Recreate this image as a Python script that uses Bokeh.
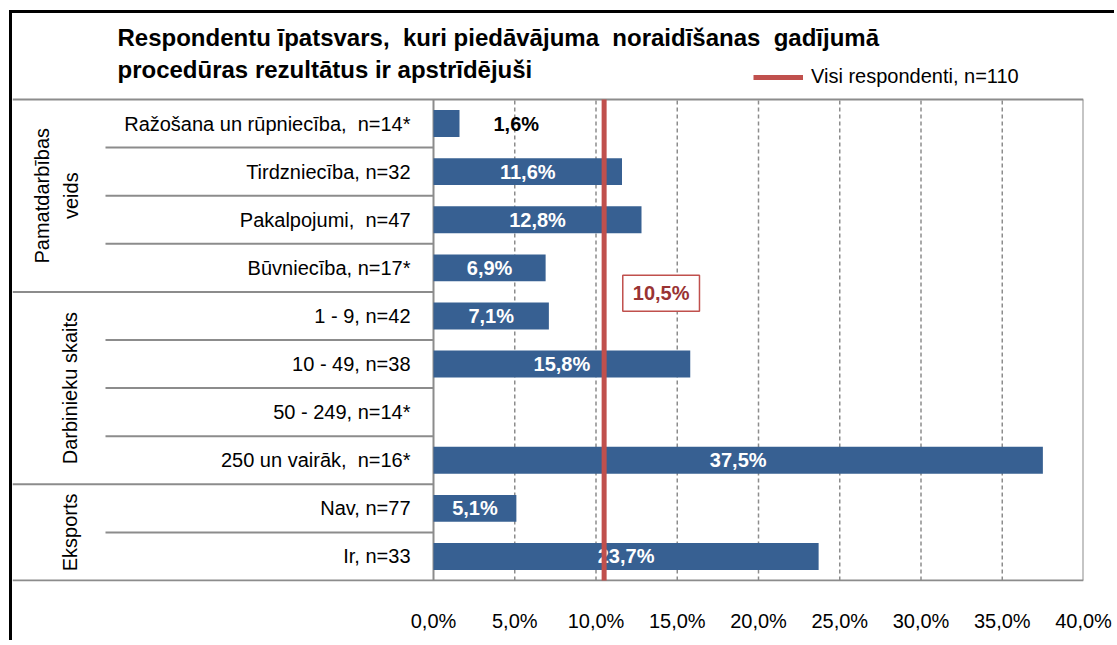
import math
from bokeh.plotting import figure
from bokeh.models import (ColumnDataSource, Range1d, FixedTicker,
                          CustomJSTickFormatter, Label, Legend, LegendItem)
from bokeh.core.properties import value
from bokeh.embed import file_html
from bokeh.resources import INLINE

NB = "\u00a0"
# ---------------- data ----------------
title_lines = ["Respondentu īpatsvars," + NB + " kuri piedāvājuma" + NB + " noraidīšanas" + NB + " gadījumā",
               "procedūras rezultātus ir apstrīdējuši"]
categories = ["Ražošana un rūpniecība," + NB + " n=14*", "Tirdzniecība, n=32",
              "Pakalpojumi," + NB + " n=47", "Būvniecība, n=17*",
              "1 - 9, n=42", "10 - 49, n=38", "50 - 249, n=14*",
              "250 un vairāk," + NB + " n=16*", "Nav, n=77", "Ir, n=33"]
values = [1.6, 11.6, 12.8, 6.9, 7.1, 15.8, float("nan"), 37.5, 5.1, 23.7]
groups = ["Pamatdarbības\nveids", "Darbinieku skaits", "Eksports"]
group_sizes = [4, 4, 2]
overall = 10.5
overall_label = "Visi respondenti, n=110"
x_ticks = [0, 5, 10, 15, 20, 25, 30, 35, 40]

# ---------------- style ----------------
FONT = "Liberation Sans"
FS = "20px"
BAR = "#376092"
RED = "#C0504D"
GRAY = "#8c8c8c"
PX_X = 650 / 40.0          # px per percent
ROW_PX = 48.1              # px per category row
N = len(categories)
X_LEFT = -421 / PX_X       # table left edge (label area)
SEP_LEFT = -328 / PX_X     # start of inner separators
Y_TOP = (581 - 13) / ROW_PX - 1 / ROW_PX
Y_BOTTOM = -1 / ROW_PX

def fmt(v):
    return ("%.1f" % v).replace(".", ",") + "%"

ypos = [N - i - 0.5 for i in range(N)]

p = figure(width=1105, height=630,
           x_range=Range1d(X_LEFT, x_ticks[-1]),
           y_range=Range1d(Y_BOTTOM, Y_TOP),
           output_backend="svg", toolbar_location=None,
           y_axis_location=None,
           min_border_left=0, min_border_right=34,
           min_border_top=0, min_border_bottom=62)
p.styles = {"margin-left": "9px", "margin-top": "10px",
            "border-left": "3px solid black", "border-top": "3px solid black"}
p.background_fill_color = "white"
p.border_fill_color = "white"
p.outline_line_color = None
p.grid.visible = False

ax = p.xaxis[0]
ax.ticker = FixedTicker(ticks=x_ticks)
ax.formatter = CustomJSTickFormatter(code="return tick.toFixed(1).replace('.', ',') + '%';")
ax.axis_line_color = None
ax.major_tick_line_color = None
ax.minor_tick_line_color = None
ax.major_tick_in = 0
ax.major_tick_out = 0
ax.major_label_standoff = 28
ax.major_label_text_font = FONT
ax.major_label_text_font_size = FS
ax.major_label_text_color = "black"

# dashed value gridlines inside the table
p.segment(x0=x_ticks[1:-1], x1=x_ticks[1:-1], y0=0, y1=N,
          line_color=GRAY, line_width=1.5, line_dash="4 3")

# table frame lines
p.segment(x0=[X_LEFT, X_LEFT], x1=[x_ticks[-1], x_ticks[-1]], y0=[0, N], y1=[0, N],
          line_color=GRAY, line_width=2)
p.segment(x0=[x_ticks[0], x_ticks[-1]], x1=[x_ticks[0], x_ticks[-1]], y0=[0, 0], y1=[N, N],
          line_color=GRAY, line_width=2)

# bars
valid = [not math.isnan(v) for v in values]
src = ColumnDataSource(dict(
    y=[y for y, ok in zip(ypos, valid) if ok],
    val=[v for v, ok in zip(values, valid) if ok],
))
p.hbar(y="y", left=0, right="val", height=0.56, source=src,
       fill_color=BAR, line_color=None)

inside = ColumnDataSource(dict(
    y=[y for y, v, ok in zip(ypos, values, valid) if ok and v >= 3],
    mid=[v / 2 for v, ok in zip(values, valid) if ok and v >= 3],
    lab=[fmt(v) for v, ok in zip(values, valid) if ok and v >= 3],
))
p.text(x="mid", y="y", text="lab", source=inside, text_color="white",
       text_font=value(FONT), text_font_style="bold", text_font_size=FS,
       text_align="center", text_baseline="middle")
outside = ColumnDataSource(dict(
    y=[y for y, v, ok in zip(ypos, values, valid) if ok and v < 3],
    val=[v for v, ok in zip(values, valid) if ok and v < 3],
    lab=[fmt(v) for v, ok in zip(values, valid) if ok and v < 3],
))
p.text(x="val", y="y", text="lab", source=outside, text_color="black",
       x_offset=34, text_font=value(FONT), text_font_style="bold",
       text_font_size=FS, text_align="left", text_baseline="middle")

# category labels
p.text(x=0, y="y", text="cat", source=ColumnDataSource(dict(y=ypos, cat=categories)),
       x_offset=-23, text_align="right", text_baseline="middle",
       text_font=value(FONT), text_font_size=FS, text_color="black")

# separators between rows
sep_y, sep_x0 = [], []
idx = 0
for size in group_sizes:
    for k in range(size):
        if idx < N - 1:
            sep_y.append(N - idx - 1)
            sep_x0.append(X_LEFT if k == size - 1 else SEP_LEFT)
        idx += 1
p.segment(x0="x0", x1=0, y0="y", y1="y",
          source=ColumnDataSource(dict(y=sep_y, x0=sep_x0)),
          line_color=GRAY, line_width=2)

# group labels (rotated)
idx = 0
gy, goff = [], []
for g, size in zip(groups, group_sizes):
    gy.append(N - idx - size / 2)
    goff.append(44 if "\n" in g else 57)
    idx += size
p.text(x=X_LEFT, y="y", text="g", x_offset="off",
       source=ColumnDataSource(dict(y=gy, g=groups, off=goff)),
       angle=math.pi / 2, text_align="center", text_baseline="middle",
       text_font=value(FONT), text_font_size=FS, text_color="black",
       text_line_height=1.3)

# overall reference line
ref = p.line(x=[overall, overall], y=[0, N], line_color=RED, line_width=5)
legend = Legend(items=[LegendItem(label=overall_label, renderers=[ref])],
                location=(741, 493), border_line_color=None,
                background_fill_alpha=0, padding=0, margin=0,
                glyph_width=50, glyph_height=20, label_standoff=8,
                label_height=20,
                label_text_font=FONT, label_text_font_size=FS,
                label_text_color="black")
p.add_layout(legend)

p.add_layout(Label(x=overall, y=5.97, x_offset=57, text=fmt(overall),
                   text_font=FONT, text_font_style="bold", text_font_size=FS,
                   text_color="#993333", text_align="center",
                   text_baseline="middle", background_fill_color="white",
                   border_line_color=RED, border_line_width=1.5,
                   padding=(10, 7)))

# title
p.add_layout(Label(x=105, y=544, x_units="screen", y_units="screen",
                   text=title_lines[0], text_font=FONT, text_font_style="bold",
                   text_font_size="24px", text_baseline="middle",
                   text_color="black"))
p.add_layout(Label(x=105, y=512, x_units="screen", y_units="screen",
                   text=title_lines[1], text_font=FONT, text_font_style="bold",
                   text_font_size="24px", text_baseline="middle",
                   text_color="black"))

open("out.html", "w").write(file_html(p, INLINE))
